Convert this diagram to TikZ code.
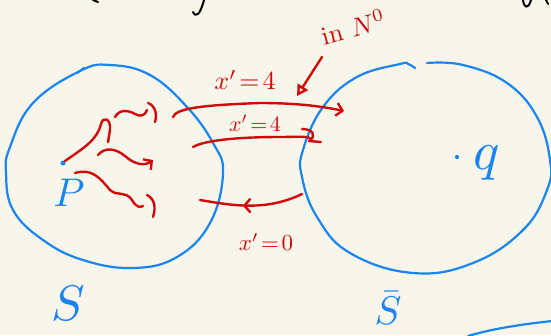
\documentclass[tikz,border=0pt]{standalone}
\usetikzlibrary{arrows.meta,decorations.markings}
\definecolor{paper}{HTML}{F8F5EA}
\definecolor{inkblue}{HTML}{1A84F0}
\definecolor{inkred}{HTML}{D00A0A}

\begin{document}
\begin{tikzpicture}[x=1pt,y=-1pt,line cap=round,line join=round,
  blueink/.style={draw=inkblue,line width=2.2pt},
  redink/.style={draw=inkred,line width=2.4pt},
  redtext/.style={text=inkred,inner sep=0pt},
  bluetext/.style={text=inkblue,inner sep=0pt},
  barb/.style={-{Straight Barb[length=6pt,width=13pt]}},
  midback/.style={postaction={decorate},decoration={markings,
    mark=at position 0.5 with {\arrow{Straight Barb[reversed,length=6pt,width=14pt]}}}}]
\fill[paper] (0,0) rectangle (551,335);
\path[use as bounding box] (0,0) rectangle (551,335);
% cut-off strokes at the top edge
\draw[line width=2pt] (93,0) -- (98,2);
\draw[line width=2pt] (193,12) .. controls (196,18) and (200,15) .. (204,0);
\draw[line width=2pt] (523,0) .. controls (524,8) and (528,10) .. (531,0);
\draw[line width=2pt] (546,0) -- (548,4);
% the two regions
\draw[blueink] plot[smooth cycle,tension=0.7] coordinates {(80,71) (110,65) (150,75) (187,107) (213,143) (223,173) (210,223) (177,257) (133,268) (83,260) (43,240) (13,210) (6,173) (10,147) (33,103)};
\draw[blueink] (77,73) -- (84,68);
\draw[blueink] plot[smooth,tension=0.7] coordinates {(427,63) (463,65) (507,83) (537,117) (550,160) (547,190) (523,230) (473,263) (413,273) (350,253) (317,217) (302,177) (303,150) (323,107) (357,77) (400,64) (408,64) (415,68)};
\draw[blueink] (468,336) .. controls (495,328) and (525,324) .. (552,321);
% points and labels
\node[circle,fill=inkblue,inner sep=1.8pt] (P) at (63,163) {};
\node[bluetext] (Plabel) at (69,193) {\scalebox{4}{$P$}};
\node[circle,fill=inkblue,inner sep=1.5pt] (q) at (457,157) {};
\node[bluetext] (qlabel) at (487,163) {\scalebox{5.5}{$q$}};
\node[bluetext] (S) at (68,303) {\scalebox{5}{$S$}};
\node[bluetext] (Sbar) at (388,308) {\scalebox{4}{$\bar S$}};
% paths starting at P
\draw[redink] (P.north east) .. controls (85,147) and (97,140) .. (101,124) .. controls (103,116) and (111,118) .. (110,130) -- (108,142);
\draw[redink] (115,117) .. controls (120,108) and (130,111) .. (135,114) .. controls (140,117) and (145,116) .. (147,110);
\draw[redink] (148,103) .. controls (156,106) and (157,115) .. (155,122);
\draw[redink,barb] (98,155) .. controls (105,147) and (115,148) .. (125,156) .. controls (135,165) and (145,166) .. (153,160);
\draw[redink] (75,173) .. controls (92,168) and (100,178) .. (110,190) .. controls (118,197) and (125,190) .. (132,200) .. controls (136,207) and (140,208) .. (143,206);
\draw[redink] (147,195) .. controls (155,199) and (156,208) .. (153,217);
% crossings between S and its complement
\coordinate (a1) at (173,117);
\coordinate (b1) at (344,111);
\coordinate (a2) at (193,147);
\coordinate (b2) at (310,138);
\coordinate (a3) at (200,200);
\coordinate (b3) at (302,194);
\draw[redink,barb] (a1) .. controls (176,108) and (205,105) .. (260,103) .. controls (300,103) and (325,107) .. (b1);
\draw[redink] (a2) .. controls (205,140) and (240,137) .. (280,137) .. controls (295,137) and (305,136) .. (b2);
\draw[redink] (302,129) .. controls (313,129) and (317,136) .. (309,141) -- (321,142);
\draw[redink,midback] (a3) .. controls (230,205) and (265,212) .. (b3);
\node[redtext] (top) at (245,80) {\scalebox{2.6}{$x'\!=\!4$}};
\node[redtext] (mid) at (255,123) {\scalebox{2.2}{$x'\!=\!4$}};
\node[redtext] (low) at (266,242) {\scalebox{2.3}{$x'\!=\!0$}};
\node[redtext,rotate=15] (inN) at (353,27) {\scalebox{2.6}{in $N^0$}};
\coordinate (c1) at (322,57);
\coordinate (c2) at (297,96);
\draw[redink,-{Triangle[open,length=11pt,width=12pt]}] (c1) -- (c2);
\end{tikzpicture}
\end{document}
